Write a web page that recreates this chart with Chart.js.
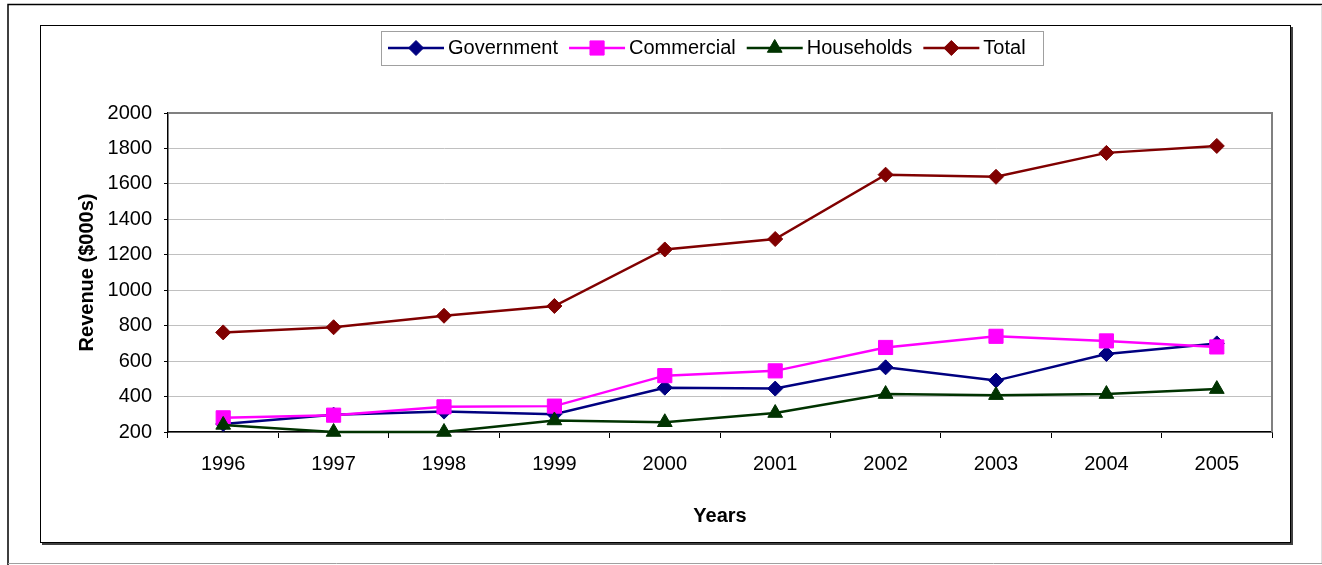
<!DOCTYPE html>
<html>
<head>
<meta charset="utf-8">
<script src="https://cdn.jsdelivr.net/npm/chart.js@4"></script>
<style>
html,body{margin:0;padding:0;background:#fff;}
canvas{display:block;}
</style>
</head>
<body>
<canvas id="c" width="1322" height="565"></canvas>
<script>
const years = ['1996','1997','1998','1999','2000','2001','2002','2003','2004','2005'];
const government = [245, 298, 315, 300, 450, 445, 565, 490, 640, 700];
const commercial = [280, 295, 342, 346, 518, 545, 677, 740, 714, 680];
const households = [240, 200, 200, 265, 255, 307, 414, 408, 414, 442];
const total = [762, 791, 856, 911, 1230, 1289, 1652, 1640, 1775, 1814];
const yTicks = [200, 400, 600, 800, 1000, 1200, 1400, 1600, 1800, 2000];

const FONT = "'Liberation Sans', Arial, sans-serif";

const series = [
  {label:'Government', data:government, color:'#000080', style:'rectRot', radius:7.5, order:3},
  {label:'Commercial', data:commercial, color:'#FF00FF', style:'rect', radius:10, order:2},
  {label:'Households', data:households, color:'#003300', style:'triangle', radius:8.5, order:1},
  {label:'Total', data:total, color:'#800000', style:'rectRot', radius:7.5, order:0}
];

const framePlugin = {
  id:'frames',
  beforeDraw(chart){
    const ctx = chart.ctx;
    ctx.save();
    ctx.fillStyle = '#fff';
    ctx.fillRect(0,0,chart.width,chart.height);
    // outer frame
    ctx.strokeStyle = '#000';
    ctx.lineWidth = 1.5;
    ctx.beginPath();
    ctx.moveTo(8, 565); ctx.lineTo(8, 4.5); ctx.lineTo(1322, 4.5);
    ctx.stroke();
    ctx.strokeStyle = '#a0a0a0';
    ctx.lineWidth = 1;
    ctx.beginPath();
    ctx.moveTo(8, 563.5); ctx.lineTo(1322, 563.5);
    ctx.stroke();
    ctx.strokeStyle = '#e0e0e0';
    ctx.beginPath();
    ctx.moveTo(1321.5, 5); ctx.lineTo(1321.5, 563);
    ctx.stroke();
    // inner chart frame with shadow
    ctx.strokeStyle = '#404040';
    ctx.lineWidth = 2;
    ctx.beginPath();
    ctx.moveTo(42, 544); ctx.lineTo(1292, 544); ctx.lineTo(1292, 27);
    ctx.stroke();
    ctx.strokeStyle = '#000';
    ctx.lineWidth = 1;
    ctx.strokeRect(40.5, 25.5, 1250, 517);
    ctx.restore();
  },
  beforeDatasetsDraw(chart){
    const ctx = chart.ctx, a = chart.chartArea;
    ctx.save();
    ctx.strokeStyle = '#808080';
    ctx.lineWidth = 2;
    ctx.beginPath();
    ctx.moveTo(a.left, a.top); ctx.lineTo(a.right, a.top); ctx.lineTo(a.right, a.bottom);
    ctx.stroke();
    ctx.restore();
  },
  afterDraw(chart){
    const ctx = chart.ctx;
    ctx.save();
    ctx.font = '20px ' + FONT;
    ctx.textBaseline = 'middle';
    ctx.textAlign = 'left';
    // legend box
    ctx.strokeStyle = '#a0a0a0';
    ctx.lineWidth = 1;
    ctx.strokeRect(381.5, 31.5, 662, 34);
    let x = 388;
    const y = 48;
    series.forEach(s => {
      ctx.strokeStyle = s.color;
      ctx.fillStyle = s.color;
      ctx.lineWidth = 2.5;
      ctx.beginPath();
      ctx.moveTo(x, y); ctx.lineTo(x + 56, y);
      ctx.stroke();
      ctx.lineWidth = 1;
      Chart.helpers.drawPoint(ctx, {pointStyle:s.style, radius:s.radius, rotation:0, borderWidth:1}, x + 28, y);
      ctx.fillStyle = '#000';
      ctx.fillText(s.label, x + 60, y);
      x = x + 60 + ctx.measureText(s.label).width + 11;
    });
    ctx.restore();
  }
};

new Chart(document.getElementById('c'), {
  type:'line',
  data:{
    labels:years,
    datasets:series.map(s => ({
      label:s.label,
      data:s.data,
      borderColor:s.color,
      backgroundColor:s.color,
      borderWidth:2.5,
      pointStyle:s.style,
      pointRadius:s.radius,
      pointHoverRadius:s.radius,
      pointBorderWidth:1,
      pointBackgroundColor:s.color,
      pointBorderColor:s.color,
      tension:0,
      fill:false,
      clip:false,
      order:s.order
    }))
  },
  options:{
    responsive:false,
    animation:false,
    events:[],
    layout:{padding:{left:40, top:113, right:50, bottom:22}},
    plugins:{legend:{display:false}, tooltip:{enabled:false}, title:{display:false}},
    scales:{
      x:{
        type:'category',
        offset:true,
        afterFit(scale){ scale.height = 111; },
        grid:{display:true, drawOnChartArea:false, offset:true, tickColor:'#000', tickLength:6, tickWidth:1},
        border:{display:true, color:'#000', width:1.5},
        ticks:{color:'#000', font:{family:FONT, size:20}, padding:14, maxRotation:0, autoSkip:false},
        title:{display:true, text:'Years', color:'#000', font:{family:FONT, size:20, weight:'bold'}, padding:{top:0, bottom:15}}
      },
      y:{
        min:200, max:2000,
        afterFit(scale){ scale.width = 128; },
        afterBuildTicks(scale){ scale.ticks = yTicks.map(v => ({value:v})); },
        grid:{color:'#c0c0c0', lineWidth:1, tickColor:'#000', tickLength:4},
        border:{display:true, color:'#000', width:1.5},
        ticks:{color:'#000', font:{family:FONT, size:20}, padding:12, callback:(v) => String(v)},
        title:{display:true, text:'Revenue ($000s)', color:'#000', font:{family:FONT, size:20, weight:'bold'}, padding:{top:35, bottom:0}}
      }
    }
  },
  plugins:[framePlugin]
});
</script>
</body>
</html>
